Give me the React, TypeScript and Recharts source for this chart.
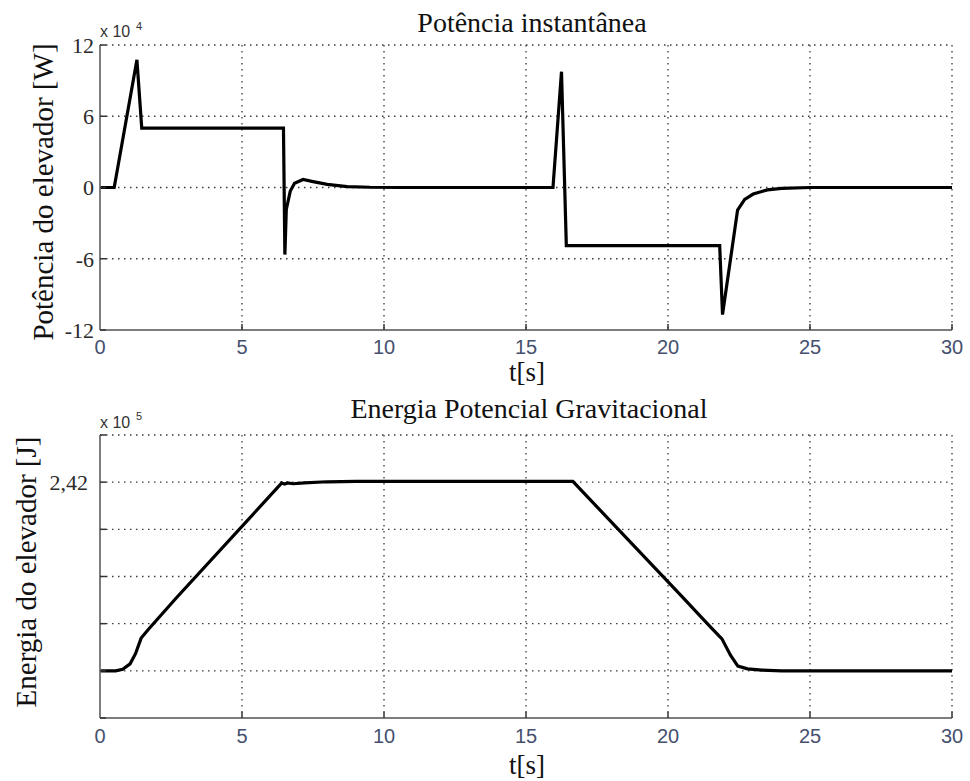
import { LineChart, Line, XAxis, YAxis, CartesianGrid } from "recharts";

// time axis shared by both plots
const timeTicks = [0, 5, 10, 15, 20, 25, 30];

// Potência instantânea (x 10^4 W)
const powerTime = [0, 0.5, 1.3, 1.47, 6.46, 6.51, 6.56, 6.7, 6.85, 7.15, 7.5, 8.0, 8.7, 9.5, 10.5, 15.95, 16.25, 16.42, 21.82, 21.92, 22.45, 22.7, 23.0, 23.5, 24.0, 25.0, 30];
const powerValue = [0, 0, 10.75, 5.0, 5.0, -5.65, -1.85, -0.3, 0.35, 0.67, 0.5, 0.26, 0.08, 0.02, 0, 0, 9.75, -4.9, -4.9, -10.7, -1.9, -1.0, -0.55, -0.2, -0.07, 0, 0];
const powerTicks = [-12, -6, 0, 6, 12];

// Energia Potencial Gravitacional (x 10^5 J)
const energyTime = [0, 0.55, 0.8, 1.06, 1.25, 1.45, 1.7, 2.7, 6.4, 6.5, 6.6, 6.8, 7.2, 8.0, 9.0, 16.65, 20.42, 21.5, 21.9, 22.2, 22.46, 22.8, 23.3, 24.0, 30];
const energyValue = [0, 0, 0.02, 0.09, 0.22, 0.42, 0.53, 0.94, 2.41, 2.395, 2.41, 2.4, 2.41, 2.425, 2.43, 2.43, 0.98, 0.56, 0.41, 0.2, 0.06, 0.025, 0.01, 0, 0];
const energyTicks = [-0.605, 0, 0.605, 1.21, 1.815, 2.42, 3.025];

const powerData = powerTime.map((t, i) => ({ t, v: powerValue[i] }));
const energyData = energyTime.map((t, i) => ({ t, v: energyValue[i] }));

const SERIF = '"Liberation Serif", "Times New Roman", serif';
const SANS = '"Liberation Sans", Arial, sans-serif';
const FRAME = "#7d7d7d";

function Plot({ data, yTicks, yFmt, yTickMargin, xTickMargin, height, marginBottom }: {
    data: { t: number; v: number }[];
    yTicks: number[];
    yFmt: (v: number) => string;
    yTickMargin: number;
    xTickMargin: number;
    height: number;
    marginBottom: number;
}) {
    const yDomain: [number, number] = [yTicks[0], yTicks[yTicks.length - 1]];
    return (
        <LineChart width={970} height={height} data={data} margin={{ top: 45, right: 18, bottom: marginBottom, left: 0 }}>
            <CartesianGrid stroke="#3a3a3a" strokeDasharray="1.5 4.5" strokeWidth={1.3} />
            <XAxis
                dataKey="t"
                type="number"
                domain={[0, 30]}
                ticks={timeTicks}
                allowDataOverflow
                height={30}
                axisLine={{ stroke: FRAME, strokeWidth: 2 }}
                tickLine={{ stroke: "#333", strokeWidth: 1.5 }}
                tickSize={-6}
                tickMargin={xTickMargin}
                tick={{ fill: "#45506e", fontSize: 20, fontFamily: SANS }}
            />
            <XAxis
                xAxisId="top"
                orientation="top"
                dataKey="t"
                type="number"
                domain={[0, 30]}
                ticks={timeTicks}
                allowDataOverflow
                height={0}
                axisLine={{ stroke: FRAME, strokeWidth: 2 }}
                tickLine={{ stroke: "#333", strokeWidth: 1.5 }}
                tickSize={-6}
                tick={false}
            />
            <YAxis
                type="number"
                domain={yDomain}
                ticks={yTicks}
                allowDataOverflow
                width={100}
                axisLine={{ stroke: FRAME, strokeWidth: 2 }}
                tickLine={{ stroke: "#333", strokeWidth: 1.5 }}
                tickSize={-6}
                tickMargin={yTickMargin}
                tickFormatter={yFmt}
                tick={{ fill: "#2a2a2a", fontSize: 22, fontFamily: SERIF }}
            />
            <YAxis
                yAxisId="r"
                orientation="right"
                type="number"
                domain={yDomain}
                ticks={yTicks}
                allowDataOverflow
                width={0}
                axisLine={{ stroke: FRAME, strokeWidth: 2 }}
                tickLine={{ stroke: "#333", strokeWidth: 1.5 }}
                tickSize={-6}
                tick={false}
            />
            <Line type="linear" dataKey="v" stroke="#000" strokeWidth={3.2} dot={false} isAnimationActive={false} />
        </LineChart>
    );
}

export default function App() {
    return (
        <div style={{ position: "absolute", left: 0, top: 0, width: 970, height: 781, background: "#fff" }}>
            <div style={{ position: "absolute", left: 0, top: 0 }}>
                <Plot
                    data={powerData}
                    yTicks={powerTicks}
                    yFmt={(v) => String(v)}
                    yTickMargin={12}
                    xTickMargin={16}
                    height={390}
                    marginBottom={30}
                />
            </div>
            <div style={{ position: "absolute", left: 0, top: 390 }}>
                <Plot
                    data={energyData}
                    yTicks={energyTicks}
                    yFmt={(v) => (v === 2.42 ? "2,42" : "")}
                    yTickMargin={18}
                    xTickMargin={17}
                    height={391}
                    marginBottom={33}
                />
            </div>
            <svg width={970} height={781} style={{ position: "absolute", left: 0, top: 0, pointerEvents: "none" }}>
                <text x={532} y={32} textAnchor="middle" fontFamily={SERIF} fontSize={28} fill="#111">Potência instantânea</text>
                <text x={527} y={381} textAnchor="middle" fontFamily={SERIF} fontSize={27} fill="#111">t[s]</text>
                <text x={529} y={418} textAnchor="middle" fontFamily={SERIF} fontSize={28} fill="#111">Energia Potencial Gravitacional</text>
                <text x={527} y={774} textAnchor="middle" fontFamily={SERIF} fontSize={27} fill="#111">t[s]</text>
                <text x={43} y={192} textAnchor="middle" dominantBaseline="central" transform="rotate(-90 43 192)" fontFamily={SERIF} fontSize={29} fill="#111">Potência do elevador [W]</text>
                <text x={26} y={572} textAnchor="middle" dominantBaseline="central" transform="rotate(-90 26 572)" fontFamily={SERIF} fontSize={29} fill="#111">Energia do elevador [J]</text>
                <text x={100} y={37} fontFamily={SANS} fontSize={16} fill="#333">x 10</text>
                <text x={136} y={30} fontFamily={SANS} fontSize={11} fill="#333">4</text>
                <text x={100} y={428} fontFamily={SANS} fontSize={16} fill="#333">x 10</text>
                <text x={136} y={420} fontFamily={SANS} fontSize={11} fill="#333">5</text>
            </svg>
        </div>
    );
}
